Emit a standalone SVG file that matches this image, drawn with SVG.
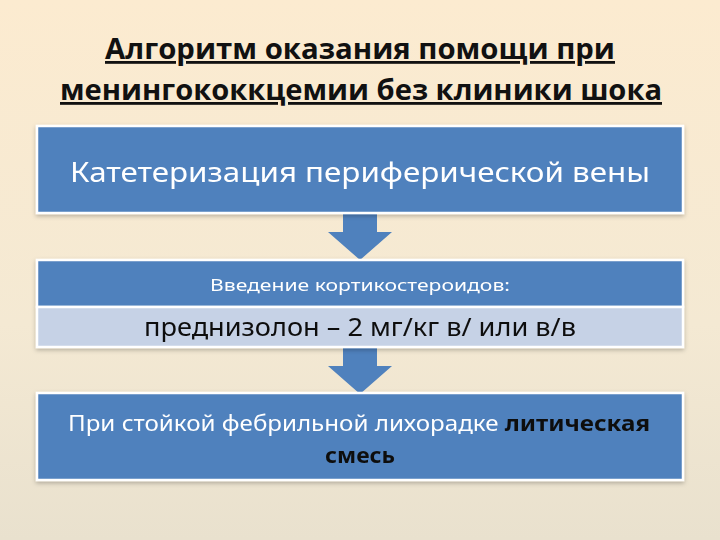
<svg xmlns="http://www.w3.org/2000/svg" width="720" height="540" viewBox="0 0 720 540">
<defs>
<linearGradient id="bg" x1="0" y1="0" x2="0" y2="1">
<stop offset="0" stop-color="#FCEBD0"/>
<stop offset="0.6" stop-color="#F4E9D3"/>
<stop offset="1" stop-color="#E9E1CE"/>
</linearGradient>
<filter id="sh" x="-5%" y="-10%" width="110%" height="130%">
<feDropShadow dx="0" dy="2" stdDeviation="2" flood-color="#000" flood-opacity="0.25"/>
</filter>
<style>
.box{fill:#4F81BD;stroke:#FFFFFF;stroke-width:2.5}
.lite{fill:#C6D2E6;stroke:#FFFFFF;stroke-width:2.5}
.arr{fill:#4F81BD}
.t{font-family:"Noto Sans","Open Sans","Liberation Sans",sans-serif;text-anchor:middle}
.title{font-family:"Open Sans","Noto Sans","Liberation Sans",sans-serif;font-weight:bold;font-size:28px;fill:#111;text-anchor:middle;text-decoration:underline}
</style>
</defs>
<rect x="0" y="0" width="720" height="540" fill="url(#bg)"/>
<g id="title">
<text class="title" x="360" y="59" textLength="510" lengthAdjust="spacingAndGlyphs">Алгоритм оказания помощи при</text>
<text class="title" x="361" y="100" textLength="602" lengthAdjust="spacingAndGlyphs">менингококкцемии без клиники шока</text>
</g>
<g id="connectors">
<polygon class="arr" points="343,213 377,213 377,232 392,232 360,260 328,232 343,232"/>
<polygon class="arr" points="343,347 377,347 377,366 392,366 360,394 328,366 343,366"/>
</g>
<g id="node1" filter="url(#sh)">
<rect class="box" x="37" y="126" width="646" height="87"/>
<text class="t" x="360" y="182" font-size="28" fill="#FFFFFF" textLength="580" lengthAdjust="spacingAndGlyphs">Катетеризация периферической вены</text>
</g>
<g id="node2" filter="url(#sh)">
<rect class="box" x="37" y="260" width="646" height="47"/>
<rect class="lite" x="37" y="307" width="646" height="40"/>
<text class="t" x="360" y="291" font-size="16" fill="#FFFFFF" textLength="300" lengthAdjust="spacingAndGlyphs">Введение кортикостероидов:</text>
<text class="t" x="360" y="336" font-size="25" fill="#111111" textLength="432" lengthAdjust="spacingAndGlyphs">преднизолон – 2 мг/кг в/ или в/в</text>
</g>
<g id="node3" filter="url(#sh)">
<rect class="box" x="37" y="393" width="646" height="87"/>
<text class="t" x="359" y="431" font-size="22" fill="#FFFFFF" textLength="582" lengthAdjust="spacingAndGlyphs"><tspan>При стойкой фебрильной лихорадке </tspan><tspan font-weight="bold" fill="#111111">литическая</tspan></text>
<text class="t" x="360" y="463" font-size="22" font-weight="bold" fill="#111111" textLength="70" lengthAdjust="spacingAndGlyphs">смесь</text>
</g>
</svg>
